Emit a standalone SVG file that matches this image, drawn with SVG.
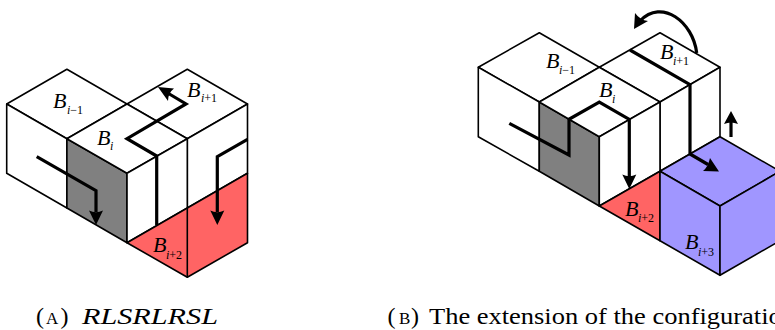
<svg xmlns="http://www.w3.org/2000/svg" width="775" height="330" viewBox="0 0 775 330">
<style>
.f{fill:#fff;stroke:#000;stroke-width:1.6;stroke-linejoin:round}
.g{fill:#808080;stroke:#000;stroke-width:1.6;stroke-linejoin:round}
.r{fill:#ff6464;stroke:#000;stroke-width:1.6;stroke-linejoin:round}
.b{fill:#a096ff;stroke:#000;stroke-width:1.6;stroke-linejoin:round}
.t{fill:none;stroke:#000;stroke-width:3.2;stroke-linejoin:miter}
.a{fill:#000;stroke:none}
text{font-family:"Liberation Serif","Times New Roman",serif;fill:#000}
.m{font-size:22px;font-style:italic}
.s{font-size:12px}
.s tspan{font-style:italic}
.c{font-size:24px}
.sc{font-size:17px}
</style>
<rect width="775" height="330" fill="#fff"/>
<g id="figure-a">
<g id="a-block-i-1">
<path class="f" d="M6.7 104L66.9 69.3L127 104L66.9 138.700Z"/>
<path class="f" d="M6.7 104L66.9 138.700V208L6.7 173.300Z"/>
<path class="g" d="M66.900 138.700L127 173.300V242.700L66.900 208Z"/>
<text class="m" x="53" y="108">B</text><text class="s" x="67" y="114"><tspan>i</tspan>−1</text>
</g>
<g id="a-block-i+1">
<path class="f" d="M127 104L187.300 69.300L247.500 104L187.300 138.700Z"/>
<path class="f" d="M187.300 138.700L247.500 104V173.300L187.300 208Z"/>
<text class="m" x="187" y="97">B</text><text class="s" x="201" y="102"><tspan>i</tspan>+1</text>
</g>
<g id="a-block-i">
<path class="f" d="M66.900 138.700L127 104L187.300 138.700L127 173.300Z"/>
<path class="f" d="M127 173.300L187.300 138.700V208L127 242.700Z"/>
<text class="m" x="97" y="145">B</text><text class="s" x="110" y="150"><tspan>i</tspan></text>
</g>
<g id="a-block-i+2">
<path class="r" d="M127 242.700L187.300 208L247.500 173.300V242.700L187.300 277.300Z"/>
<path class="f" style="fill:none" d="M187.300 208V277.300"/>
<text class="m" x="153" y="252">B</text><text class="s" x="166" y="259"><tspan>i</tspan>+2</text>
</g>
<g id="a-connectors">
<path class="t" d="M36.700 156.700L96 190.700V212"/>
<path class="a" d="M96 225L89 210.500Q96 214 103 210.500Z"/>
<path class="t" d="M156.700 225V156L127 138.700L186 104L166 92"/>
<path class="a" d="M158 87L174 88.500Q168 93 168 101Z"/>
<path class="t" d="M247.500 139.300L217.300 156.700V212"/>
<path class="a" d="M217.300 225L210.300 210.500Q217.300 214 224.300 210.500Z"/>
</g>
</g>
<g id="figure-b">
<g id="b-block-i-1">
<path class="f" d="M478.300 67.300L539.300 32.700L599.300 67.300L539.300 102Z"/>
<path class="f" d="M478.300 67.300L539.300 102V171.300L478.300 136.700Z"/>
<path class="g" d="M539.300 102L599.300 136.700V206L539.300 171.300Z"/>
<text class="m" x="546" y="68">B</text><text class="s" x="559" y="74"><tspan>i</tspan>−1</text>
</g>
<g id="b-block-i+1">
<path class="f" d="M599.300 67.300L660 32.700L720 67.300L660 102Z"/>
<path class="f" d="M660 102L720 67.300V136.700L660 171.300Z"/>
<text class="m" x="660" y="59">B</text><text class="s" x="673" y="65"><tspan>i</tspan>+1</text>
</g>
<g id="b-block-i">
<path class="f" d="M539.300 102L599.300 67.300L660 102L599.300 136.700Z"/>
<path class="f" d="M599.300 136.700L660 102V171.300L599.300 206Z"/>
<text class="m" x="599" y="97">B</text><text class="s" x="612" y="103"><tspan>i</tspan></text>
</g>
<g id="b-block-i+2">
<path class="r" d="M599.300 206L660 171.300V240.700Z"/>
<text class="m" x="625" y="216">B</text><text class="s" x="638" y="222"><tspan>i</tspan>+2</text>
</g>
<g id="b-block-i+3">
<path class="b" d="M660 171.300L720 136.700L780 171.300L720 206Z"/>
<path class="b" d="M660 171.300L720 206V275.300L660 240.700Z"/>
<path class="b" d="M720 206L780 171.300V240.700L720 275.300Z"/>
<text class="m" x="685" y="249">B</text><text class="s" x="698" y="256"><tspan>i</tspan>+3</text>
</g>
<g id="b-connectors">
<path class="t" d="M509.300 123.300L569 155V119.300L599.300 102L629.300 119.300V178"/>
<path class="a" d="M629.300 189L622.300 174.500Q629.300 178 636.300 174.500Z"/>
<path class="t" d="M630 50L690 84.700V154L708 164.500"/>
<path class="a" d="M719 171.500L703 171Q708 167 710 158Z"/>
<path class="t" d="M696.700 53C693 22 662 -2 640 21"/>
<path class="a" d="M634 29L635 13Q640 20 648 21Z"/>
<path class="t" d="M731 137V122"/>
<path class="a" d="M731 111L724 124Q731 121 738 124Z"/>
</g>
</g>
<g id="captions">
<text class="c" y="323.500"><tspan x="36">(</tspan><tspan class="sc" x="46">A</tspan><tspan x="60.500">)</tspan></text>
<text class="c" x="82" y="323.500" font-style="italic" textLength="136" lengthAdjust="spacingAndGlyphs">RLSRLRSL</text>
<text class="c" y="323.500"><tspan x="387.500">(</tspan><tspan class="sc" x="399">B</tspan><tspan x="411">)</tspan></text>
<text class="c" x="429" y="323.500" textLength="366" lengthAdjust="spacingAndGlyphs">The extension of the configuration</text>
</g>
</svg>
